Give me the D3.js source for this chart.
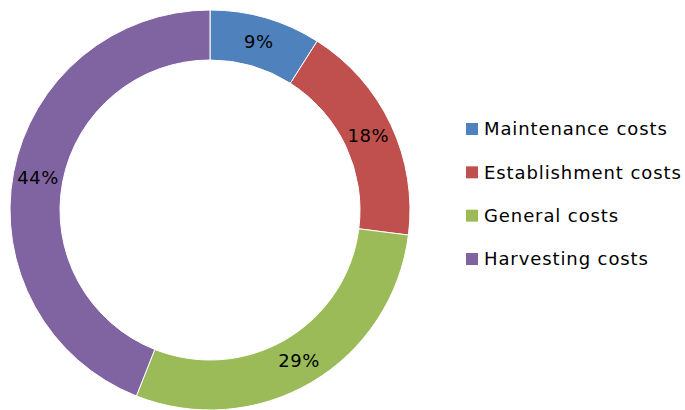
<!DOCTYPE html>
<html><head><meta charset="utf-8">
<script src="https://cdn.jsdelivr.net/npm/d3@7"></script>
<style>html,body{margin:0;padding:0;background:#fff;}svg{display:block;}</style>
</head><body>
<svg id="chart" width="685" height="410"></svg>
<script>
const categories = ["Maintenance costs", "Establishment costs", "General costs", "Harvesting costs"];
const values = [9, 18, 29, 44];
const labels = ["9%", "18%", "29%", "44%"];
const colors = ["#4F81BD", "#C0504D", "#9BBB59", "#8064A2"];

const svg = d3.select("#chart");
const cx = 210, cy = 210, rOuter = 200, rInner = 150;
const g = svg.append("g").attr("transform", `translate(${cx},${cy})`);
const pie = d3.pie().sort(null).value(d => d)(values);
const arc = d3.arc().innerRadius(rInner).outerRadius(rOuter);
const labelArc = d3.arc().innerRadius(175).outerRadius(175);
const color = d3.scaleOrdinal().domain(categories).range(colors);

g.selectAll("path").data(pie).join("path")
  .attr("d", arc)
  .attr("fill", (d, i) => color(categories[i]))
  .attr("stroke", "#fff").attr("stroke-width", 1);

g.selectAll("text").data(pie).join("text")
  .attr("transform", d => `translate(${labelArc.centroid(d)})`)
  .attr("text-anchor", "middle").attr("dy", "0.35em")
  .attr("font-family", "'DejaVu Sans', sans-serif").attr("font-size", 18)
  .attr("letter-spacing", 0.5)
  .attr("fill", "#000")
  .text((d, i) => labels[i]);

const legend = svg.append("g");
const ly = d3.scalePoint().domain(categories).range([129, 259]);
const items = legend.selectAll("g").data(categories).join("g")
  .attr("transform", d => `translate(466,${ly(d)})`);
items.append("rect").attr("x", 0).attr("y", -6).attr("width", 12).attr("height", 12)
  .attr("fill", d => color(d));
items.append("text").attr("x", 18).attr("dy", "0.35em")
  .attr("font-family", "'DejaVu Sans', sans-serif").attr("font-size", 18)
  .attr("letter-spacing", 0.9).attr("fill", "#000")
  .text(d => d);
</script>
</body></html>
